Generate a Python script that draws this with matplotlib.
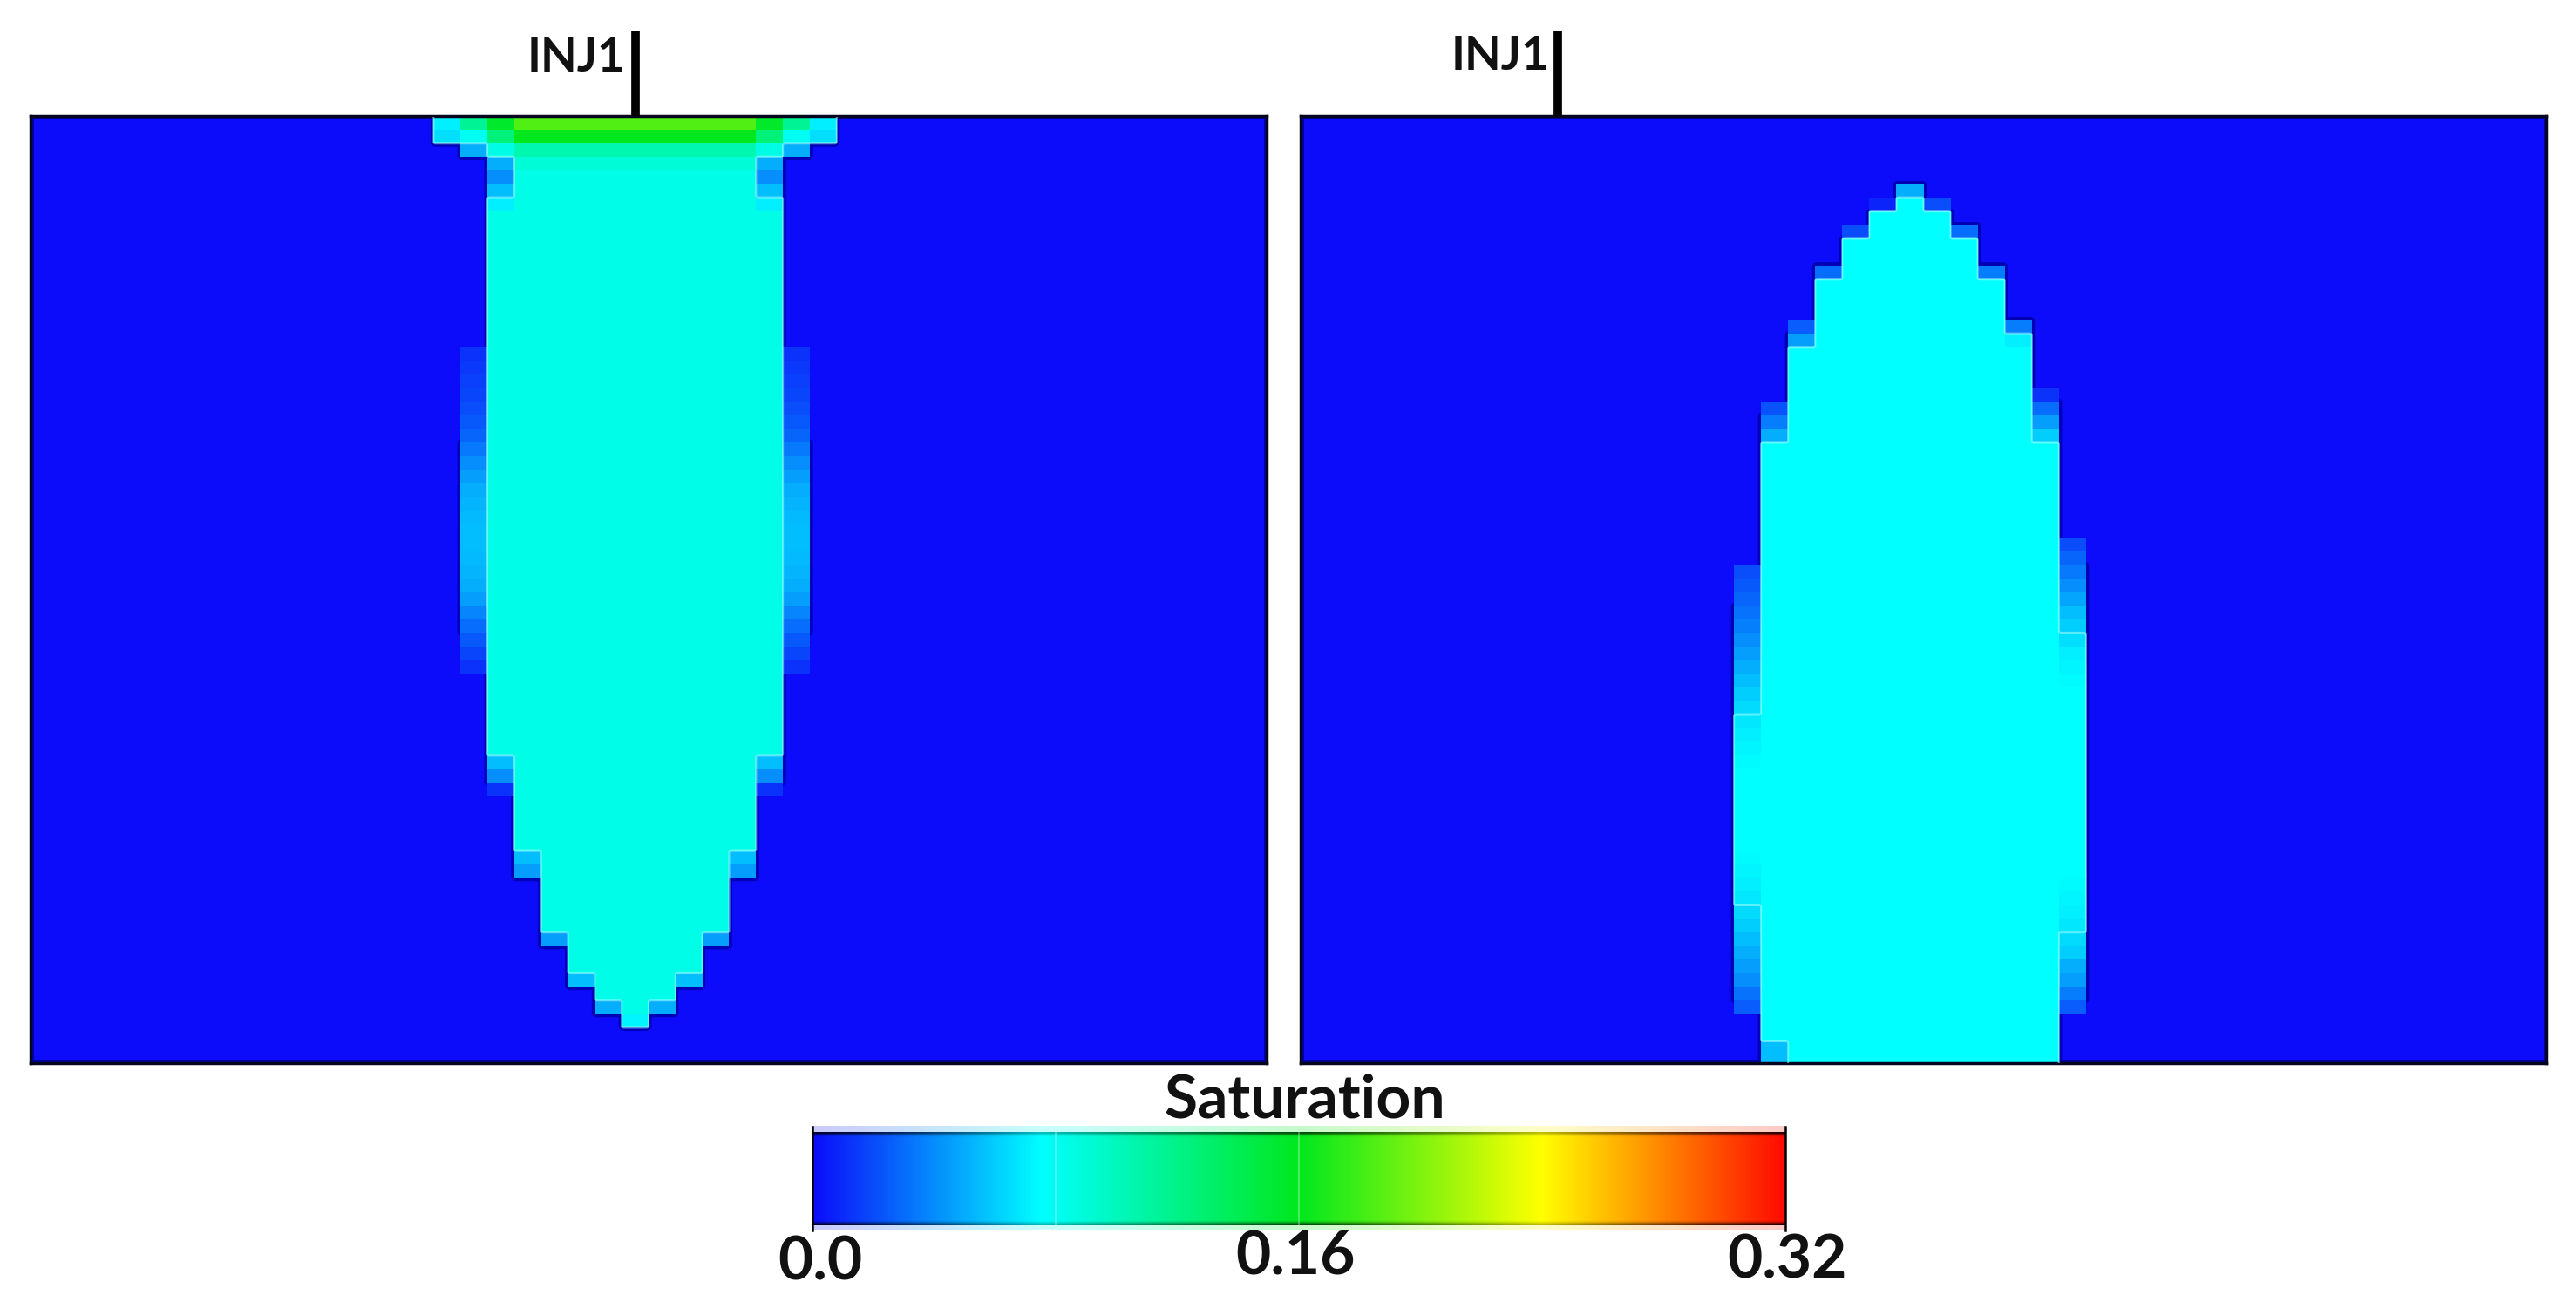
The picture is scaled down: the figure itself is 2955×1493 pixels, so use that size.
import numpy as np
import matplotlib
matplotlib.use("Agg")
import matplotlib.pyplot as plt
from matplotlib.colors import LinearSegmentedColormap
from matplotlib.patches import Rectangle

W, H = 2955, 1493
N_COLS, N_ROWS = 46, 70
VMAX = 0.32

# colour scale
bar_nodes = [0.0, 0.235, 0.5, 0.75, 1.0]
bar_colors = ["#0c0cfa", "#00ffff", "#00e81e", "#ffff00", "#ff0a00"]
bar_ticks = ["0.0", "0.16", "0.32"]

# left panel, mirrored around column 22
left_center = 22
left_core_cols = [17, 18, 19, 20, 21, 22]
left_core_first = [7, 3, 3, 3, 3, 3]
left_core_stop = [47, 54, 60, 63, 65, 66]
left_core_value = 0.084
left_top_cols = [15, 16, 17, 18, 19, 20, 21, 22]
left_row0 = [0.07, 0.115, 0.155, 0.185, 0.185, 0.185, 0.185, 0.185]
left_row1 = [0.065, 0.08, 0.125, 0.16, 0.16, 0.16, 0.16, 0.16]
left_row2 = [0.0, 0.05, 0.085, 0.105, 0.105, 0.105, 0.105, 0.105]
left_col17_upper = [0.05, 0.04, 0.055, 0.07]  # rows 3-6
left_col17_lower = [0.055, 0.04, 0.012]  # rows 47-49
left_col18_lower = [0.055, 0.045]  # rows 54-55
left_tip = [(19, 60, 0.045), (20, 63, 0.055), (21, 65, 0.05), (22, 66, 0.072)]
left_col16 = [0.012, 0.014, 0.016, 0.018, 0.02, 0.024, 0.028, 0.034,
              0.04, 0.045, 0.05, 0.052, 0.054, 0.055, 0.055, 0.054,
              0.052, 0.05, 0.045, 0.038, 0.03, 0.024, 0.018, 0.012]  # rows 17-40

# right panel
right_core_cols = [17, 18, 19, 20, 21, 22, 23, 24, 25, 26, 27]
right_core_first = [24, 17, 12, 9, 7, 6, 7, 9, 12, 17, 24]
right_core_value = 0.075
right_fringe = [
    (22, 5, [0.05]),
    (21, 6, [0.008]),
    (23, 6, [0.02]),
    (20, 8, [0.02]),
    (24, 8, [0.03]),
    (19, 11, [0.03]),
    (25, 11, [0.035]),
    (18, 15, [0.025, 0.045]),
    (26, 15, [0.035, 0.07]),
    (17, 21, [0.022, 0.035, 0.05]),
    (27, 20, [0.012, 0.03, 0.045, 0.06]),
    (17, 68, [0.055, 0.055]),
    (16, 33, [0.02, 0.024, 0.028, 0.032, 0.036, 0.04, 0.045, 0.05, 0.055,
              0.06, 0.064, 0.068, 0.07, 0.072, 0.074, 0.075, 0.075,
              0.075, 0.075, 0.075, 0.075, 0.074, 0.072, 0.07, 0.068,
              0.064, 0.06, 0.055, 0.05, 0.045, 0.04, 0.032, 0.025]),
    (28, 31, [0.02, 0.028, 0.034, 0.04, 0.048, 0.055, 0.06, 0.065,
              0.07, 0.072, 0.074, 0.075, 0.075, 0.075, 0.075, 0.075,
              0.075, 0.075, 0.075, 0.075, 0.075, 0.075, 0.075, 0.075,
              0.075, 0.074, 0.072, 0.07, 0.068, 0.064,
              0.06, 0.05, 0.045, 0.035, 0.025]),
]


def left_grid():
    g = np.zeros((N_ROWS, N_COLS))
    for c, a, b in zip(left_core_cols, left_core_first, left_core_stop):
        g[a:b, c] = left_core_value
    for r, row in enumerate([left_row0, left_row1, left_row2]):
        for c, v in zip(left_top_cols, row):
            g[r, c] = v
    g[3:7, 17] = left_col17_upper
    g[47:50, 17] = left_col17_lower
    g[54:56, 18] = left_col18_lower
    for c, r, v in left_tip:
        g[r, c] = v
    g[3, 18:23] = 0.09
    g[17:41, 16] = left_col16
    # the plume is symmetric about the well column
    for c in range(left_center + 1, N_COLS):
        m = 2 * left_center - c
        if m >= 0:
            g[:, c] = g[:, m]
    return g


def right_grid():
    g = np.zeros((N_ROWS, N_COLS))
    for c, a in zip(right_core_cols, right_core_first):
        g[a:, c] = right_core_value
    for c, r, vals in right_fringe:
        g[r:r + len(vals), c] = vals
    return g


def box(x0, y0, x1, y1):
    return [x0 / W, 1 - y1 / H, (x1 - x0) / W, (y1 - y0) / H]


cmap = LinearSegmentedColormap.from_list("sat", list(zip(bar_nodes, bar_colors)), N=512)
cmap.set_bad((0, 0, 0, 0))

plt.rcParams["font.family"] = ["Lato", "DejaVu Sans"]
plt.rcParams["font.weight"] = "bold"
fig = plt.figure(figsize=(W / 100, H / 100), dpi=100, facecolor="white")


def panel(rect, grid, well_col):
    ax = fig.add_axes(box(*rect), facecolor=cmap(0.0))
    ax.pcolormesh(np.arange(N_COLS + 1), np.arange(N_ROWS + 1), np.ma.masked_equal(grid, 0),
                  cmap=cmap, vmin=0, vmax=VMAX, zorder=2, antialiased=False)
    # sharpening halo of the scanned figure
    k = 8
    xs = (np.arange(N_COLS * k) + 0.5) / k
    ys = (np.arange(N_ROWS * k) + 0.5) / k
    fine = np.kron(grid, np.ones((k, k)))
    ax.contour(xs, ys, (fine >= 0.03).astype(float), levels=[0.5], colors="#0000b4",
               linewidths=5, zorder=1)
    ax.contour(xs, ys, (fine >= 0.065).astype(float), levels=[0.5], colors="#a8ffff",
               linewidths=1.5, alpha=0.55, zorder=3)
    ax.add_patch(Rectangle((0, 0), N_COLS, 69.6, fill=False, ec="#0000a0", lw=5, zorder=1.5))
    ax.set_xlim(0, N_COLS)
    ax.set_ylim(69.6, 0)
    ax.set_xticks([])
    ax.set_yticks([])
    for s in ax.spines.values():
        s.set_linewidth(2.5)
        s.set_color("#06061e")
    ax.plot([well_col, well_col], [0, -6.3], color="black", lw=7, clip_on=False,
            solid_capstyle="butt", zorder=5)
    return ax


panel((35, 133, 1453, 1219), left_grid(), 22.5)
panel((1492, 133, 2921, 1219), right_grid(), 9.5)

fig.text(605 / W, 1 - 82 / H, "INJ1", fontsize=39, ha="left", va="baseline", color="#111111")
fig.text(1665 / W, 1 - 80 / H, "INJ1", fontsize=39, ha="left", va="baseline", color="#111111")

# colour bar
cax = fig.add_axes(box(932, 1298, 2048, 1405))
grad = np.linspace(0, 1, 512)[None, :]
cax.imshow(grad, extent=(0, 1, 0, 1), aspect="auto", cmap=cmap, vmin=0, vmax=1)
cax.imshow(grad, extent=(0, 1, 1, 1.06), aspect="auto", cmap=cmap, vmin=0, vmax=1, alpha=0.22, clip_on=False)
cax.imshow(grad, extent=(0, 1, -0.06, 0), aspect="auto", cmap=cmap, vmin=0, vmax=1, alpha=0.22, clip_on=False)
# dark rim along both long edges, weaker under the cyan and the yellow
rim_y = np.array([0.85, 0.75, 0.5, 0.25, 0.08] + [0.0] * 90 + [0.08, 0.25, 0.5, 0.75, 0.85])
rim_x = np.interp(np.linspace(0, 1, 512), [0, 0.235, 0.5, 0.75, 1], [1, 0.3, 0.8, 0.3, 1])
rim = np.zeros((100, 512, 4))
rim[..., 3] = np.outer(rim_y, rim_x)
cax.imshow(rim, extent=(0, 1, 0, 1), aspect="auto", interpolation="bilinear")
for f in [0.25, 0.5]:
    cax.axvline(f, color="white", lw=1.2, alpha=0.35)
for f in [0, 1]:
    cax.plot([f, f], [-0.06, 1.06], color="black", lw=1.8, clip_on=False)
cax.set_xlim(0, 1)
cax.set_ylim(0, 1)
cax.axis("off")

fig.text(1497 / W, 1 - 1282 / H, "Saturation", fontsize=50, ha="center", va="baseline", color="#111111")
fig.text(941 / W, 1 - 1467 / H, bar_ticks[0], fontsize=50, ha="center", va="baseline", color="#111111")
fig.text(1486 / W, 1 - 1462 / H, bar_ticks[1], fontsize=50, ha="center", va="baseline", color="#111111")
fig.text(2050 / W, 1 - 1465 / H, bar_ticks[2], fontsize=50, ha="center", va="baseline", color="#111111")

fig.savefig("out.png", dpi=100)
